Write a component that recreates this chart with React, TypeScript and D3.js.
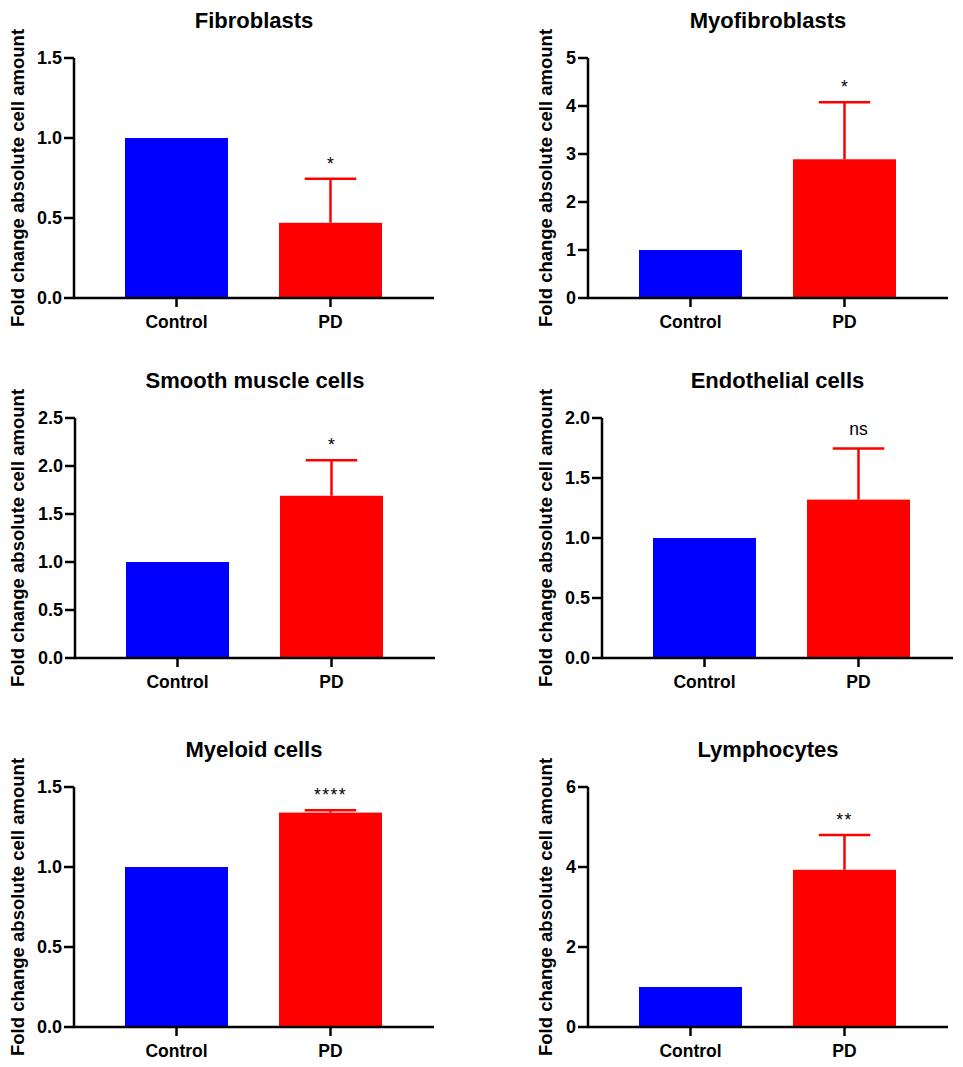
import React from 'react';
import * as d3 from 'd3';

// Data
const categories = ['Control', 'PD'];
const panelTitles = ['Fibroblasts', 'Myofibroblasts', 'Smooth muscle cells', 'Endothelial cells', 'Myeloid cells', 'Lymphocytes'];
const controlMeans = [1, 1, 1, 1, 1, 1];
const pdMeans = [0.47, 2.89, 1.69, 1.32, 1.34, 3.93];
const pdUpper = [0.745, 4.08, 2.06, 1.745, 1.355, 4.8];
const yMax = [1.5, 5, 2.5, 2.0, 1.5, 6];
const yStep = [0.5, 1, 0.5, 0.5, 0.5, 2];
const significance = ['*', '*', '*', 'ns', '****', '**'];

const FONT = "'Liberation Sans', Arial, Helvetica, sans-serif";
const BLUE = '#0000ff';
const RED = '#ff0000';

// layout per panel: axis left, axis right, plot top
const layout = [
  { left: 74, right: 434, top: 58, labelX: 24 },
  { left: 588, right: 948, top: 58, labelX: 552 },
  { left: 75, right: 435, top: 418, labelX: 24 },
  { left: 602, right: 953, top: 418, labelX: 552 },
  { left: 74, right: 434, top: 787, labelX: 24 },
  { left: 588, right: 948, top: 787, labelX: 552 },
];
const plotHeight = 240;

function Panel({ i }: { i: number }) {
  const L = layout[i];
  const width = L.right - L.left;
  const x = d3.scaleBand<string>().domain(categories).range([25.5, 333.5]).paddingInner(0.331).paddingOuter(0.1655);
  const y = d3.scaleLinear().domain([0, yMax[i]]).range([plotHeight, 0]);
  const ticks = d3.range(0, yMax[i] + 1e-9, yStep[i]);
  const fmt = yStep[i] < 1 ? d3.format('.1f') : d3.format('d');
  const values = [controlMeans[i], pdMeans[i]];
  const colors = [BLUE, RED];
  const pdCx = (x('PD') ?? 0) + x.bandwidth() / 2;
  const capHalf = x.bandwidth() / 4;
  const sig = significance[i];
  const sigY = y(pdUpper[i]) - (sig === 'ns' ? 14 : 9);

  return (
    <g>
      <text x={L.left + width / 2} y={L.top - 30} textAnchor="middle" fontFamily={FONT} fontWeight="bold" fontSize={22} fill="#000">
        {panelTitles[i]}
      </text>
      <text
        transform={`translate(${L.labelX},${L.top + plotHeight / 2}) rotate(-90)`}
        textAnchor="middle"
        fontFamily={FONT}
        fontWeight="bold"
        fontSize={18.5}
        fill="#000"
      >
        Fold change absolute cell amount
      </text>
      <g transform={`translate(${L.left},${L.top})`}>
        {values.map((v, k) => (
          <rect key={k} x={x(categories[k])} y={y(v)} width={x.bandwidth()} height={y(0) - y(v)} fill={colors[k]} />
        ))}
        {/* upper error bar */}
        <line x1={pdCx} x2={pdCx} y1={y(pdMeans[i])} y2={y(pdUpper[i])} stroke={RED} strokeWidth={2.5} />
        <line x1={pdCx - capHalf} x2={pdCx + capHalf} y1={y(pdUpper[i])} y2={y(pdUpper[i])} stroke={RED} strokeWidth={2.5} />
        <text x={pdCx} y={sigY} textAnchor="middle" fontFamily={FONT} fontSize={17.5} letterSpacing={sig.length > 1 && sig !== 'ns' ? 1.5 : 0} fill="#000">
          {sig}
        </text>
        {/* y axis */}
        <line x1={0} x2={0} y1={0} y2={plotHeight} stroke="#000" strokeWidth={2.5} />
        {ticks.map((t) => (
          <g key={t} transform={`translate(0,${y(t)})`}>
            <line x1={-10} x2={0} stroke="#000" strokeWidth={2.5} />
            <text x={-12} dy="0.36em" textAnchor="end" fontFamily={FONT} fontWeight="bold" fontSize={18} fill="#000">
              {fmt(t)}
            </text>
          </g>
        ))}
        {/* x axis */}
        <line x1={-1.25} x2={width} y1={plotHeight} y2={plotHeight} stroke="#000" strokeWidth={2.5} />
        {categories.map((c) => {
          const cx = (x(c) ?? 0) + x.bandwidth() / 2;
          return (
            <g key={c} transform={`translate(${cx},${plotHeight})`}>
              <line y1={0} y2={9} stroke="#000" strokeWidth={2.5} />
              <text y={30} textAnchor="middle" fontFamily={FONT} fontWeight="bold" fontSize={17.5} fill="#000">
                {c}
              </text>
            </g>
          );
        })}
      </g>
    </g>
  );
}

export default function App() {
  return (
    <svg width={963} height={1067} style={{ position: 'absolute', left: 0, top: 0, background: '#fff' }}>
      <rect width={963} height={1067} fill="#fff" />
      {panelTitles.map((_, i) => (
        <Panel key={i} i={i} />
      ))}
    </svg>
  );
}
